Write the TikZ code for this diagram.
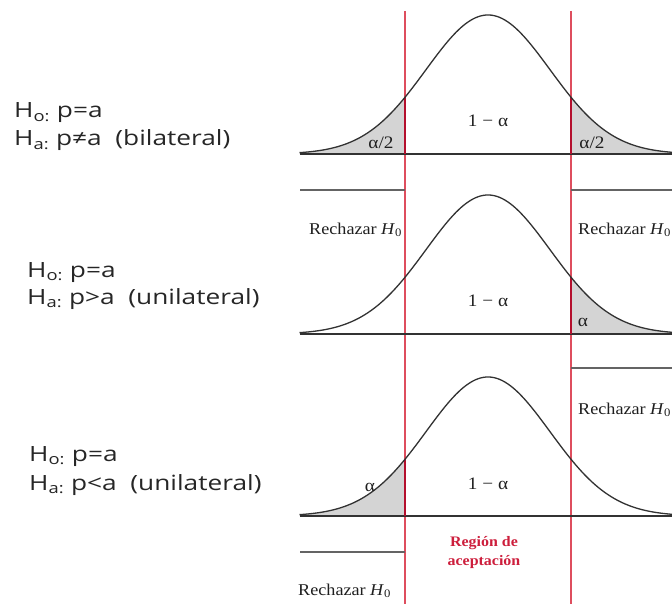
\documentclass[tikz,border=0pt]{standalone}
\usepackage{fontspec}
\setmainfont{Liberation Serif}
\newfontfamily\hypfont{Open Sans}
\usepackage{graphicx}
\definecolor{redline}{RGB}{222,78,94}
\definecolor{redthick}{RGB}{180,15,45}
\definecolor{curvegray}{RGB}{50,50,50}
\definecolor{shadegray}{RGB}{212,212,212}
\definecolor{rejgray}{RGB}{100,100,100}
\definecolor{acep}{RGB}{205,30,60}
\newcommand\wx[1]{\scalebox{1.1}[1]{#1}}
\newcommand\wh[1]{\scalebox{1.25}[1]{#1}}
\newcommand\Hzero{\textit{H}\textsubscript{0}}
\begin{document}
\begin{tikzpicture}[x=1pt,y=1pt,
  hyp/.style={anchor=base west, inner sep=0pt, font=\hypfont\fontsize{21}{23}\selectfont, text=black!85},
  lab/.style={inner sep=0pt, font=\fontsize{17.5}{19}\selectfont, text=black!88},
  rej/.style={anchor=base west, inner sep=0pt, font=\fontsize{16.5}{18}\selectfont, text=black!88},
  acepstyle/.style={inner sep=0pt, align=center, font=\bfseries\fontsize{14.5}{19}\selectfont, text=acep},
  curve/.style={draw=curvegray, line width=1.3pt},
  baseln/.style={draw=curvegray, line width=1.4pt},
  rejln/.style={draw=rejgray, line width=2pt},
  redln/.style={draw=redline, line width=1.1pt},
  redthk/.style={draw=redthick, line width=1.8pt},
  tail/.style={fill=shadegray}]
\clip (0,0) rectangle (672,-604);
\fill[white] (0,0) rectangle (672,-604);

% ---------- shaded tails ----------
\fill[tail] (300,-154) -- plot[domain=-3.04:-1.3387,samples=60] ({488+62*\x},{-154+139*exp(-0.5*\x*\x)}) -- (405,-154) -- cycle;
\fill[tail] (571,-154) -- plot[domain=1.3387:3.04,samples=60] ({488+62*\x},{-154+139*exp(-0.5*\x*\x)}) -- (676,-154) -- cycle;
\fill[tail] (571,-334) -- plot[domain=1.3387:3.04,samples=60] ({488+62*\x},{-334+139*exp(-0.5*\x*\x)}) -- (676,-334) -- cycle;
\fill[tail] (300,-516) -- plot[domain=-3.04:-1.3387,samples=60] ({488+62*\x},{-516+139*exp(-0.5*\x*\x)}) -- (405,-516) -- cycle;

% ---------- red critical lines ----------
\coordinate (LT) at (405,-11);
\coordinate (LB) at (405,-604);
\coordinate (RT) at (571,-11);
\coordinate (RB) at (571,-604);
\draw[redln] (LT) -- (LB);
\draw[redln] (RT) -- (RB);

% ---------- baselines ----------
\coordinate (b1l) at (300,-154); \coordinate (b1r) at (672,-154);
\coordinate (b2l) at (300,-334); \coordinate (b2r) at (672,-334);
\coordinate (b3l) at (300,-516); \coordinate (b3r) at (672,-516);
\draw[baseln] (b1l) -- (b1r);
\draw[baseln] (b2l) -- (b2r);
\draw[baseln] (b3l) -- (b3r);

% ---------- thick red boundaries in shaded tails ----------
\coordinate (c1l) at (405,-97.3); \coordinate (c1lb) at (405,-154);
\coordinate (c1r) at (571,-97.3); \coordinate (c1rb) at (571,-154);
\coordinate (c2r) at (571,-277.3); \coordinate (c2rb) at (571,-334);
\coordinate (c3l) at (405,-459.3); \coordinate (c3lb) at (405,-516);
\draw[redthk] (c1lb) -- (c1l);
\draw[redthk] (c1rb) -- (c1r);
\draw[redthk] (c2rb) -- (c2r);
\draw[redthk] (c3lb) -- (c3l);

% ---------- bell curves ----------
\draw[curve] plot[domain=-3.04:3.1,samples=140] ({488+62*\x},{-154+139*exp(-0.5*\x*\x)});
\draw[curve] plot[domain=-3.04:3.1,samples=140] ({488+62*\x},{-334+139*exp(-0.5*\x*\x)});
\draw[curve] plot[domain=-3.04:3.1,samples=140] ({488+62*\x},{-516+139*exp(-0.5*\x*\x)});

% ---------- rejection region lines ----------
\coordinate (r1a) at (300,-190); \coordinate (r1b) at (405,-190);
\coordinate (r1c) at (571,-190); \coordinate (r1d) at (672,-190);
\coordinate (r2a) at (571,-368); \coordinate (r2b) at (672,-368);
\coordinate (r3a) at (300,-552); \coordinate (r3b) at (405,-552);
\draw[rejln] (r1a) -- (r1b);
\draw[rejln] (r1c) -- (r1d);
\draw[rejln] (r2a) -- (r2b);
\draw[rejln] (r3a) -- (r3b);

% ---------- labels inside curves ----------
\node[lab] (a1l) at (381,-143) {\wx{α/2}};
\node[lab] (a1r) at (592,-143) {\wx{α/2}};
\node[lab] (m1) at (488,-121) {\wx{1 − α}};
\node[lab] (m2) at (488,-301) {\wx{1 − α}};
\node[lab] (a2) at (583,-322) {\wx{α}};
\node[lab] (m3) at (488,-484) {\wx{1 − α}};
\node[lab] (a3) at (370,-487) {\wx{α}};

% ---------- rechazar labels ----------
\node[rej] (rz1l) at (309,-234) {\wx{Rechazar \Hzero}};
\node[rej] (rz1r) at (578,-234) {\wx{Rechazar \Hzero}};
\node[rej] (rz2r) at (578,-414) {\wx{Rechazar \Hzero}};
\node[rej] (rz3l) at (298,-595) {\wx{Rechazar \Hzero}};

% ---------- acceptance region ----------
\node[acepstyle] (acep) at (484,-553) {\wx{Región de}\\\wx{aceptación}};

% ---------- hypotheses ----------
\node[hyp] (h1o) at (14,-118) {\wh{H\textsubscript{o:} p=a}};
\node[hyp] (h1a) at (14,-146) {\wh{H\textsubscript{a:} p≠a\ \ (bilateral)}};
\node[hyp] (h2o) at (27,-277) {\wh{H\textsubscript{o:} p=a}};
\node[hyp] (h2a) at (27,-304) {\wh{H\textsubscript{a:} p>a\ \ (unilateral)}};
\node[hyp] (h3o) at (29,-461) {\wh{H\textsubscript{o:} p=a}};
\node[hyp] (h3a) at (29,-490) {\wh{H\textsubscript{a:} p<a\ \ (unilateral)}};
\end{tikzpicture}
\end{document}
